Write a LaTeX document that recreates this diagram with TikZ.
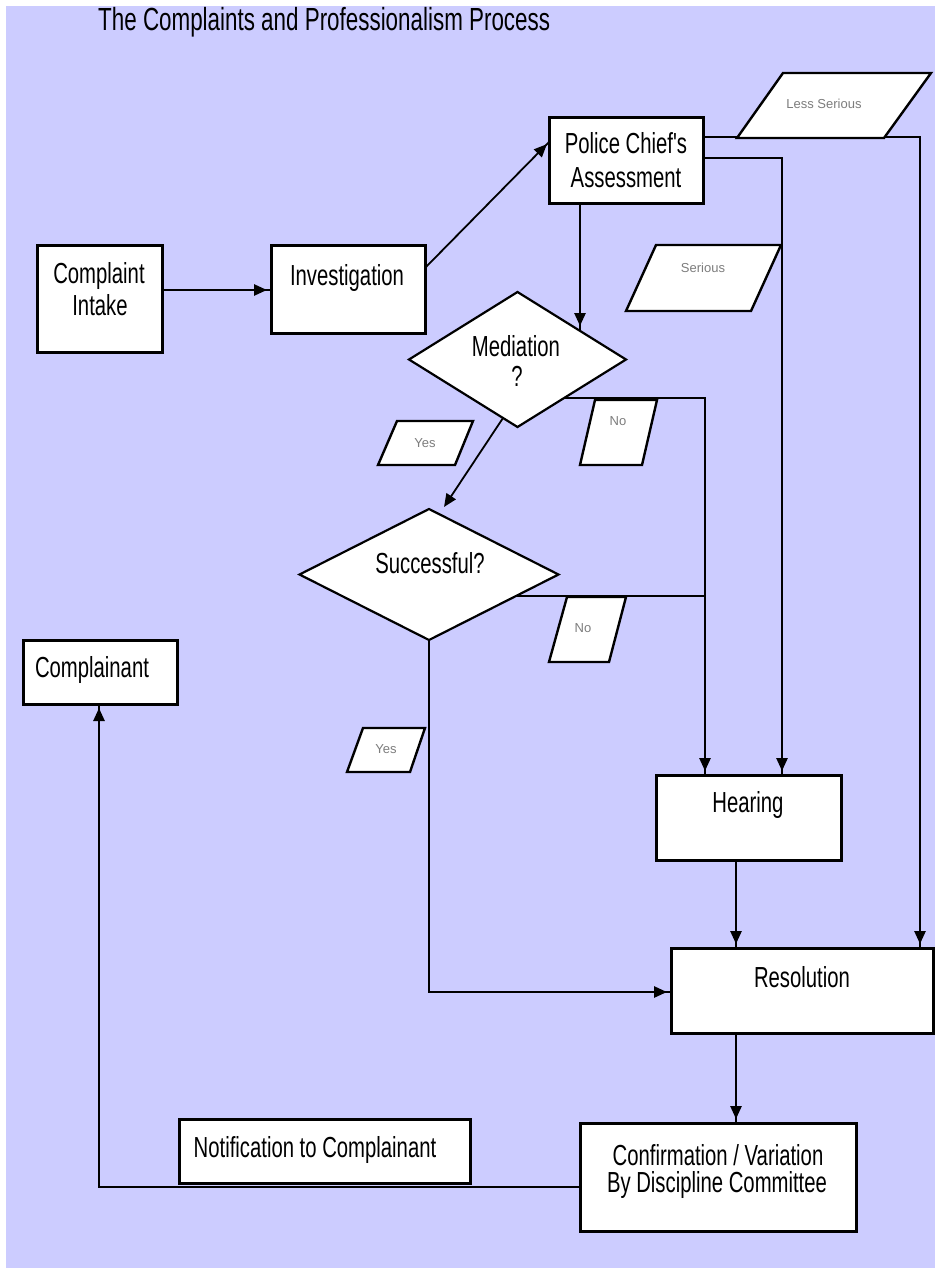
\documentclass[tikz,border=0pt]{standalone}
\usepackage{fontspec}
\setmainfont{Liberation Sans}
\newfontfamily\nar{Liberation Sans}[FakeStretch=0.7]
\usetikzlibrary{arrows.meta,shapes.geometric,decorations.markings}
\definecolor{lav}{RGB}{204,204,255}
\definecolor{labgray}{RGB}{125,125,125}
\tikzset{
  box/.style={draw, fill=white, line width=3pt, inner sep=0pt, outer sep=0pt},
  dia/.style={diamond, draw, fill=white, line width=2.2pt, inner sep=0pt, outer sep=0pt},
  conn/.style={line width=2.6pt},
  thinconn/.style={line width=1.8pt},
  flow/.style={conn, postaction={decorate}, decoration={markings, mark=at position -4pt with {\arrow{Triangle[length=13pt,width=11pt]}}}},
  para/.style={draw, fill=white, line width=2.4pt, line join=miter},
  lbl/.style={font=\nar\fontsize{29}{34}\selectfont, anchor=base, inner sep=0pt},
  ttl/.style={font=\nar\fontsize{32}{36}\selectfont, anchor=base west, inner sep=0pt},
  small/.style={font=\fontsize{13}{15}\selectfont, text=labgray, anchor=base, inner sep=0pt},
}
\begin{document}
\begin{tikzpicture}[x=1pt,y=-1pt]
\fill[white] (0,0) rectangle (943,1275);
\useasboundingbox (0,0) rectangle (943,1275);
\fill[lav] (6,6) rectangle (935,1268);

% helper coordinates
\coordinate (y290) at (0,290);
\coordinate (y268) at (0,268);
\coordinate (y142) at (0,142);
\coordinate (y158) at (0,158);
\coordinate (y137) at (0,137);
\coordinate (y992) at (0,992);
\coordinate (y1187) at (0,1187);
\coordinate (x580) at (580,0);
\coordinate (x705) at (705,0);
\coordinate (x782) at (782,0);
\coordinate (x920) at (920,0);
\coordinate (x736) at (736,0);
\coordinate (x99) at (99,0);
\coordinate (medhit) at (580,330);
\coordinate (medno) at (564,398);
\coordinate (succno) at (516,596);
\coordinate (medyes) at (503,418);
\coordinate (succtip) at (444,507);

% boxes
\node[box, minimum width=125pt, minimum height=107pt] (intake) at (99.5,298.5) {};
\node[box, minimum width=154pt, minimum height=88pt] (invest) at (348,289) {};
\node[box, minimum width=154pt, minimum height=86pt] (police) at (626,160) {};
\node[box, minimum width=154pt, minimum height=64pt] (complainant) at (100,672) {};
\node[box, minimum width=185pt, minimum height=85pt] (hearing) at (748.5,817.5) {};
\node[box, minimum width=262pt, minimum height=85pt] (res) at (802,990.5) {};
\node[box, minimum width=291pt, minimum height=64pt] (notif) at (324.5,1151) {};
\node[box, minimum width=276pt, minimum height=108pt] (confirm) at (718,1177) {};
\node[dia, minimum width=217pt, minimum height=135pt] (med) at (517.5,359.5) {};
\node[dia, minimum width=259pt, minimum height=131pt] (succ) at (429,574.5) {};

% connectors
\draw[flow] (intake.east |- y290) -- (invest.west |- y290);
\draw[thinconn, postaction={decorate}, decoration={markings, mark=at position -3pt with {\arrow{Triangle[length=13pt,width=11pt]}}}] (invest.east |- y268) -- (police.west |- y142);
\draw[flow] (police.south -| x580) -- (medhit);
\draw[flow] (police.east |- y158) -| (hearing.north -| x782);
\draw[flow] (police.east |- y137) -| (res.north -| x920);
\draw[flow] (medno) -| (hearing.north -| x705);
\draw[conn] (succno) -- (x705 |- succno);
\draw[thinconn, -{Triangle[length=13pt,width=11pt]}] (medyes) -- (succtip);
\draw[flow] (succ.south) |- (res.west |- y992);
\draw[flow] (hearing.south -| x736) -- (res.north -| x736);
\draw[flow] (res.south -| x736) -- (confirm.north -| x736);
\draw[flow] (confirm.west |- y1187) -| (complainant.south -| x99);

% parallelogram labels
\draw[para] (783,73) -- (931,73) -- (884,138) -- (737,138) -- cycle;
\draw[para] (656,245) -- (781,245) -- (751,311) -- (626,311) -- cycle;
\draw[para] (397,421) -- (473,421) -- (455,465) -- (378,465) -- cycle;
\draw[para] (595,400) -- (657,400) -- (642,465) -- (580,465) -- cycle;
\draw[para] (567,597) -- (626,597) -- (609,662) -- (549,662) -- cycle;
\draw[para] (363,728) -- (425,728) -- (410,772) -- (347,772) -- cycle;

% texts
\node[ttl] (title) at (98,30) {The Complaints and Professionalism Process};
\node[lbl] (intake1) at (99,283) {Complaint};
\node[lbl] (intake2) at (100,315) {Intake};
\node[lbl] (investT) at (347,285) {Investigation};
\node[lbl] (police1) at (626,153) {Police Chief's};
\node[lbl] (police2) at (626,187) {Assessment};
\node[lbl] (med1) at (516,356) {Mediation};
\node[lbl] (med2) at (517,386) {?};
\node[lbl] (succT) at (430,573) {Successful?};
\node[lbl] (complT) at (92,677) {Complainant};
\node[lbl] (hearT) at (748,812) {Hearing};
\node[lbl] (resT) at (802,987) {Resolution};
\node[lbl] (notifT) at (315,1157) {Notification to Complainant};
\node[lbl] (conf1) at (718,1165) {Confirmation / Variation};
\node[lbl] (conf2) at (717,1192) {By Discipline Committee};
\node[small] (lessT) at (824,108) {Less Serious};
\node[small] (serT) at (703,272) {Serious};
\node[small] (yes1) at (425,447) {Yes};
\node[small] (no1) at (618,425) {No};
\node[small] (no2) at (583,632) {No};
\node[small] (yes2) at (386,753) {Yes};
\end{tikzpicture}
\end{document}
